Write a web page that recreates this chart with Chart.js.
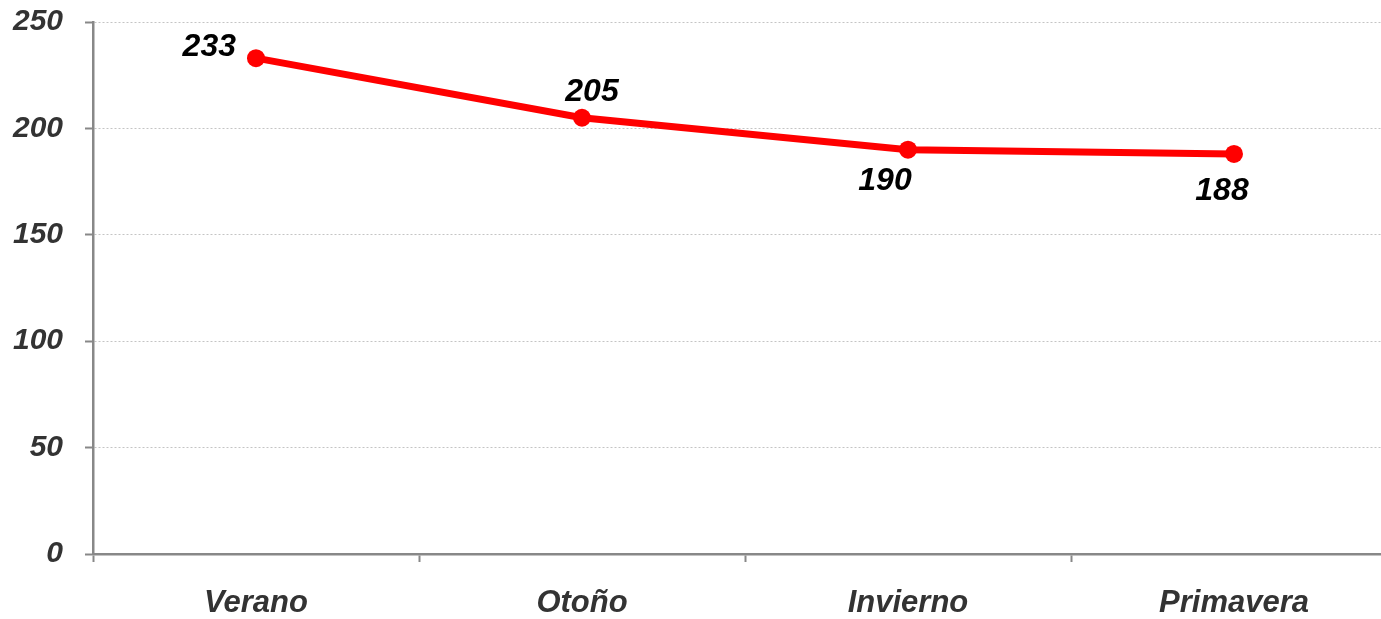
<!DOCTYPE html>
<html>
<head>
<meta charset="utf-8">
<script src="https://cdn.jsdelivr.net/npm/chart.js@4"></script>
<style>
  html, body { margin: 0; padding: 0; background: #fff; overflow: hidden; }
  #wrap { width: 1381px; height: 619px; overflow: hidden; position: relative; }
  #box { width: 1406px; height: 619px; position: absolute; left: 0; top: 0; }
</style>
</head>
<body>
<div id="wrap"><div id="box"><canvas id="estacionesChart"></canvas></div></div>
<script>
// --- DATOS ---
var estaciones = ['Verano', 'Otoño', 'Invierno', 'Primavera'];
var valores = [233, 205, 190, 188];
var ticksY = [0, 50, 100, 150, 200, 250];

// posición de cada etiqueta respecto a su punto (estilo, no datos)
var posEtiquetas = [
    { dx: -20, dy: -11, align: 'right' },
    { dx: 10, dy: -26, align: 'center' },
    { dx: -23, dy: 31, align: 'center' },
    { dx: -12, dy: 37, align: 'center' }
];

var familia = "'Liberation Sans', Arial, sans-serif";
var fuenteX = { family: familia, size: 31, weight: 'bold', style: 'italic' };
var fuenteY = { family: familia, size: 30, weight: 'bold', style: 'italic' };

// plugin sencillo para las etiquetas de valor
var etiquetasValor = {
    id: 'etiquetasValor',
    afterDatasetsDraw: function (chart) {
        var ctx = chart.ctx;
        var meta = chart.getDatasetMeta(0);
        ctx.save();
        ctx.font = 'italic bold 32px ' + familia;
        ctx.fillStyle = '#000';
        ctx.textBaseline = 'middle';
        meta.data.forEach(function (pt, i) {
            var p = posEtiquetas[i];
            ctx.textAlign = p.align;
            ctx.fillText(String(valores[i]), pt.x + p.dx, pt.y + p.dy);
        });
        ctx.restore();
    }
};

var ctx = document.getElementById('estacionesChart').getContext('2d');
new Chart(ctx, {
    type: 'line',
    data: {
        labels: estaciones,
        datasets: [{
            data: valores,
            borderColor: '#ff0000',
            backgroundColor: '#ff0000',
            borderWidth: 7,
            pointRadius: 9,
            pointBackgroundColor: '#ff0000',
            pointBorderWidth: 0,
            tension: 0,
            fill: false
        }]
    },
    options: {
        responsive: true,
        maintainAspectRatio: false,
        animation: false,
        layout: { padding: { top: 22, right: 3, left: 0, bottom: 0 } },
        plugins: {
            legend: { display: false },
            tooltip: { enabled: false }
        },
        scales: {
            x: {
                offset: true,
                grid: {
                    offset: true,
                    drawOnChartArea: false,
                    drawTicks: true,
                    tickLength: 8,
                    tickColor: '#888888',
                    tickWidth: 2
                },
                border: { display: true, color: '#888888', width: 2.5 },
                ticks: { color: '#333333', font: fuenteX, padding: 23 },
                afterFit: function (scale) {
                    scale.height = 65;
                    scale.paddingLeft = 0;
                    scale.paddingRight = 0;
                }
            },
            y: {
                min: 0,
                max: 250,
                afterBuildTicks: function (scale) {
                    scale.ticks = ticksY.map(function (v) { return { value: v }; });
                },
                grid: {
                    color: '#c4c4c4',
                    lineWidth: 1,
                    drawTicks: true,
                    tickLength: 8,
                    tickColor: '#888888',
                    tickWidth: 2,
                    tickBorderDash: []
                },
                border: { display: true, color: '#888888', width: 2.5, dash: [2, 2] },
                ticks: { color: '#333333', font: fuenteY, padding: 22 },
                afterFit: function (scale) {
                    scale.width = 93;
                    scale.paddingTop = 0;
                    scale.paddingBottom = 0;
                }
            }
        }
    },
    plugins: [etiquetasValor]
});
</script>
</body>
</html>
